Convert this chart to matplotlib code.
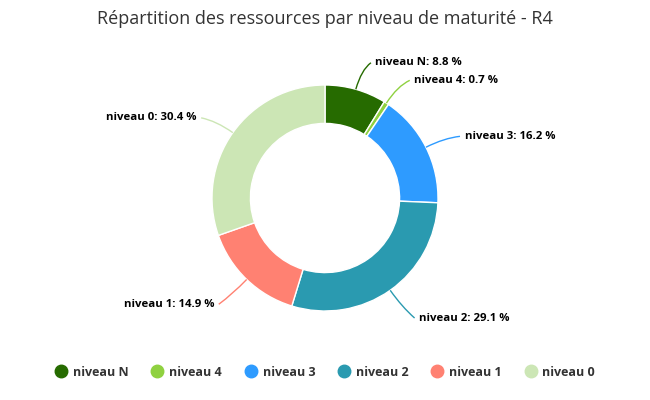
import numpy as np
import matplotlib.pyplot as plt
from matplotlib.path import Path
from matplotlib.patches import PathPatch
from matplotlib.lines import Line2D

plt.rcParams['font.family'] = ['Open Sans', 'DejaVu Sans']

labels = ['niveau N', 'niveau 4', 'niveau 3', 'niveau 2', 'niveau 1', 'niveau 0']
values = [8.8, 0.7, 16.2, 29.1, 14.9, 30.4]
colors = ['#266b00', '#8fd140', '#2e9bff', '#2a9ab0', '#ff8172', '#cce6b5']
title = 'Répartition des ressources par niveau de maturité - R4'

W, H = 650, 400
cx, cy, R = 325, 198, 113  # pixel layout

fig = plt.figure(figsize=(W / 100, H / 100), dpi=100)
ax = fig.add_axes([0, 0, 1, 1])

wedges, _ = ax.pie(values, colors=colors, startangle=90, counterclock=False,
                   radius=1.0, wedgeprops=dict(width=0.34, edgecolor='white', linewidth=1))
ax.set_xlim(-cx / R, (W - cx) / R)
ax.set_ylim(-(H - cy) / R, cy / R)
ax.set_aspect('equal')
ax.axis('off')

total = sum(values)
start = 0.0
for lab, v, c in zip(labels, values, colors):
    mid = (start + v / 2) / total * 2 * np.pi
    start += v
    sx, sy = np.sin(mid), np.cos(mid)
    side = 1 if sx >= 0 else -1
    p0 = (1.0 * sx, 1.0 * sy)
    p1 = (1.18 * sx, 1.18 * sy)
    p2 = (1.27 * sx + side * 0.06, 1.27 * sy - 0.025)
    path = Path([p0, p1, p2], [Path.MOVETO, Path.CURVE3, Path.CURVE3])
    ax.add_patch(PathPatch(path, fill=False, edgecolor=c, linewidth=1))
    ax.text(p2[0] + side * 0.04, p2[1], f'{lab}: {v} %', ha='left' if side > 0 else 'right',
            va='center', fontsize=8.2, fontweight='bold', color='black')

fig.text(0.5, 1 - 19 / H, title, ha='center', va='center', fontsize=13, color='#333333')

handles = [Line2D([], [], marker='o', linestyle='', markersize=9, markerfacecolor=c,
                  markeredgecolor=c) for c in colors]
fig.legend(handles, labels, loc='center', bbox_to_anchor=(0.5, 1 - 372 / H), ncol=6,
           frameon=False, handletextpad=0.45, columnspacing=1.8, handlelength=1.0,
           prop=dict(size=9, weight='bold'), labelcolor='#333333')

fig.savefig('out.png', dpi=100)
